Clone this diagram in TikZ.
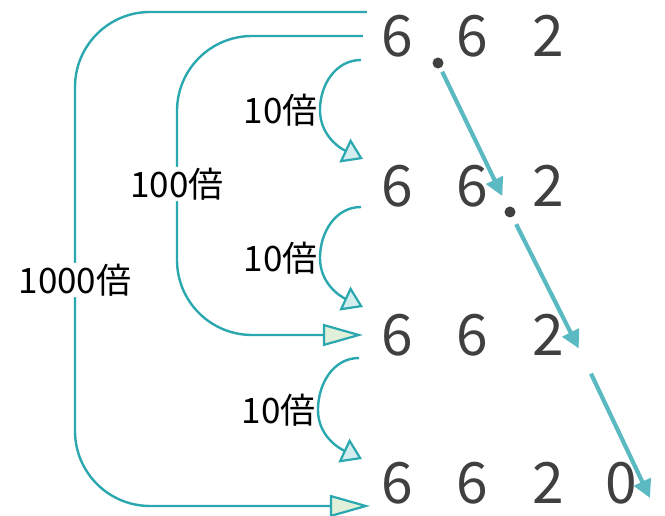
\documentclass[tikz,border=0pt]{standalone}
\usepackage{fontspec}
\setmainfont{Noto Sans CJK JP}
\usepackage{tikz}
\usetikzlibrary{positioning,arrows.meta,calc}

\definecolor{tealline}{HTML}{2AA7AF}
\definecolor{movecol}{HTML}{5BB9C1}
\definecolor{tenfill}{HTML}{D4EEF0}
\definecolor{bigfill}{HTML}{E1F0D9}
\definecolor{digitcol}{HTML}{404040}

\begin{document}
\begin{tikzpicture}[
  x=1pt, y=1pt,
  digit/.style={text=digitcol, inner sep=0pt, font=\fontsize{57}{60}\selectfont},
  pnt/.style={circle, fill=digitcol, inner sep=0pt, minimum size=11pt},
  lbl/.style={inner sep=1pt, font=\fontsize{35}{38}\selectfont},
  ten/.style={draw=tealline, line width=2.4pt,
              -{Triangle[length=20pt,width=26pt,fill=tenfill,line width=2.2pt]}},
  big/.style={draw=tealline, line width=2.4pt, rounded corners=75pt,
              -{Triangle[length=40pt,width=22pt,fill=bigfill,line width=2.2pt]}},
  move/.style={draw=movecol, line width=4.2pt,
               -{Triangle[length=18pt,width=18pt]}},
]
\useasboundingbox (0,0) rectangle (665,516);

% ── 数字 ──
\node[digit] (a1) at (397,480) {6};
\node[digit] (a2) at (472,480) {6};
\node[digit] (a3) at (548,480) {2};
\node[digit] (b1) at (397,330) {6};
\node[digit] (b2) at (472,330) {6};
\node[digit] (b3) at (548,330) {2};
\node[digit] (c1) at (397,181) {6};
\node[digit] (c2) at (472,181) {6};
\node[digit] (c3) at (548,181) {2};
\node[digit] (d1) at (397,33) {6};
\node[digit] (d2) at (472,33) {6};
\node[digit] (d3) at (548,33) {2};
\node[digit] (d4) at (621,33) {0};

% ── 小数点 ──
\node[pnt] (p1) at (438,453) {};
\node[pnt] (p2) at (510,304) {};
\coordinate (v3) at (585,155);
\coordinate (v4) at (650,18);

% ── 小数点の移動 ──
\draw[move, shorten <=4pt, shorten >=12pt] (p1) -- (p2);
\draw[move, shorten <=8pt, shorten >=14pt] (p2) -- (v3);
\draw[move, shorten <=14pt] (v3) -- (v4);

% ── 10倍 ──
\draw[ten] ([shift={(-20,-24)}]a1.west) to[out=180,in=90] ++(-41,-50)
  node[lbl, left] {10倍} to[out=-90,in=155] ([shift={(-18,27)}]b1.west);
\draw[ten] ([shift={(-20,-21)}]b1.west) to[out=180,in=90] ++(-41,-51)
  node[lbl, left] {10倍} to[out=-90,in=155] ([shift={(-18,28)}]c1.west);
\draw[ten] ([shift={(-22,-23)}]c1.west) to[out=180,in=90] ++(-41,-52)
  node[lbl, left] {10倍} to[out=-90,in=155] ([shift={(-19,24)}]d1.west);

% ── 100倍・1000倍 ──
\draw[big] ([xshift=-18]a1.west) -| (177,332) node[lbl, fill=white] {100倍}
  |- ([xshift=-18]c1.west);
\draw[big] ([shift={(-14,24)}]a1.west) -| (75,236) node[lbl, fill=white] {1000倍}
  |- ([shift={(-11,-23)}]d1.west);

\end{tikzpicture}
\end{document}
